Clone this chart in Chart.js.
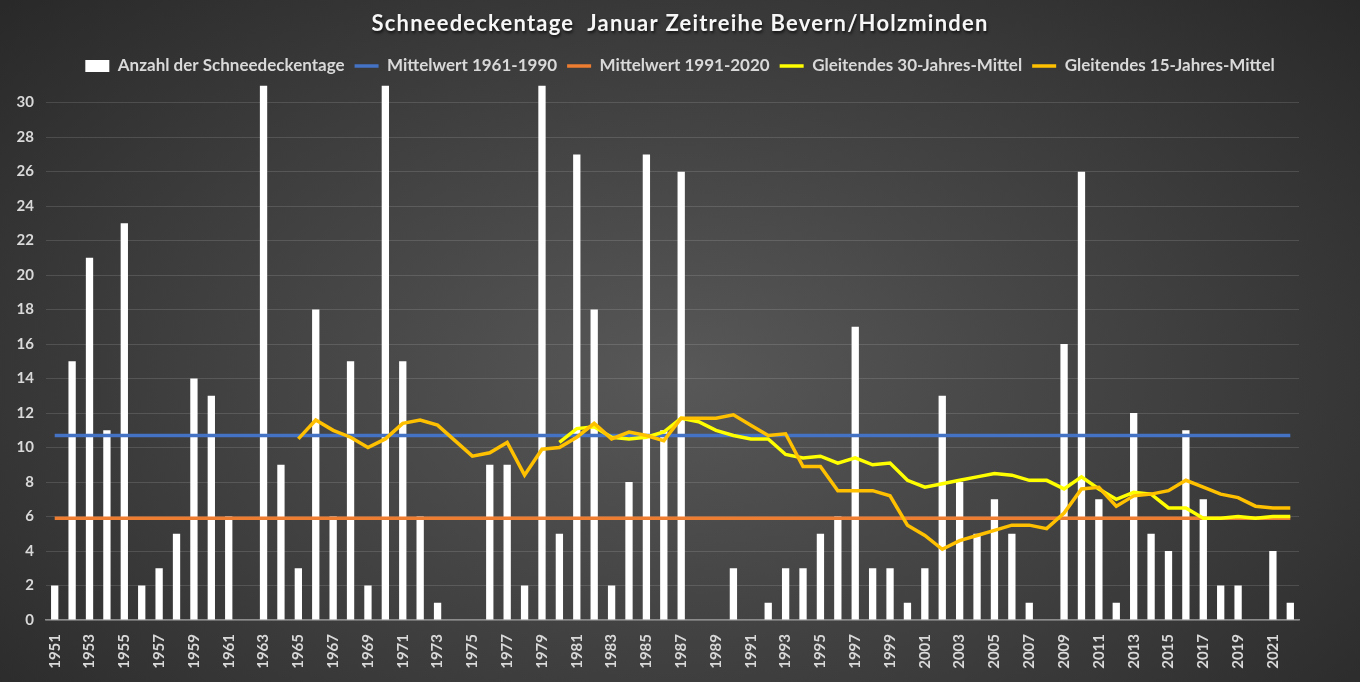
<!DOCTYPE html>
<html>
<head>
<meta charset="utf-8">
<title>Schneedeckentage Januar Bevern/Holzminden</title>
<script src="https://cdn.jsdelivr.net/npm/chart.js@4.4.1/dist/chart.umd.min.js"></script>
<style>
    html, body { margin: 0; padding: 0; }
    body {
        width: 1360px;
        height: 682px;
        overflow: hidden;
        background: radial-gradient(ellipse 72% 85% at 50% 55%, #585858 0%, #3d3d3d 55%, #262626 100%);
    }
    canvas { display: block; }
</style>
</head>
<body>
<canvas id="snowChart" width="1360" height="682"></canvas>
<script>
// Years on the x axis
const years = [
    '1951','1952','1953','1954','1955','1956','1957','1958','1959','1960',
    '1961','1962','1963','1964','1965','1966','1967','1968','1969','1970',
    '1971','1972','1973','1974','1975','1976','1977','1978','1979','1980',
    '1981','1982','1983','1984','1985','1986','1987','1988','1989','1990',
    '1991','1992','1993','1994','1995','1996','1997','1998','1999','2000',
    '2001','2002','2003','2004','2005','2006','2007','2008','2009','2010',
    '2011','2012','2013','2014','2015','2016','2017','2018','2019','2020',
    '2021','2022'
];

// y axis labels
const yTicks = [0, 2, 4, 6, 8, 10, 12, 14, 16, 18, 20, 22, 24, 26, 28, 30];

// Anzahl der Schneedeckentage im Januar
const snowDays = [
    2, 15, 21, 11, 23, 2, 3, 5, 14, 13,
    6, 0, 31, 9, 3, 18, 6, 15, 2, 31,
    15, 6, 1, 0, 0, 9, 9, 2, 31, 5,
    27, 18, 2, 8, 27, 11, 26, 0, 0, 3,
    0, 1, 3, 3, 5, 6, 17, 3, 3, 1,
    3, 13, 8, 5, 7, 5, 1, 0, 16, 26,
    7, 1, 12, 5, 4, 11, 7, 2, 2, 0,
    4, 1
];

// Reference means
const mean6190 = 10.7;
const mean9120 = 5.9;

// Gleitendes 30-Jahres-Mittel (first value 1980)
const avg30 = [
    null, null, null, null, null, null, null, null, null, null,
    null, null, null, null, null, null, null, null, null, null,
    null, null, null, null, null, null, null, null, null,
    10.3, 11.1, 11.2, 10.6, 10.5, 10.6, 10.9, 11.7, 11.5, 11.0,
    10.7, 10.5, 10.5, 9.6, 9.4, 9.5, 9.1, 9.4, 9.0, 9.1,
    8.1, 7.7, 7.9, 8.1, 8.3, 8.5, 8.4, 8.1, 8.1, 7.6,
    8.3, 7.6, 7.0, 7.4, 7.3, 6.5, 6.5, 5.9, 5.9, 6.0,
    5.9, 6.0, 6.0
];

// Gleitendes 15-Jahres-Mittel (first value 1965)
const avg15 = [
    null, null, null, null, null, null, null, null, null, null,
    null, null, null, null,
    10.5, 11.6, 11.0, 10.6, 10.0, 10.5,
    11.4, 11.6, 11.3, 10.4, 9.5, 9.7, 10.3, 8.4, 9.9, 10.0,
    10.6, 11.4, 10.5, 10.9, 10.7, 10.4, 11.7, 11.7, 11.7, 11.9,
    11.3, 10.7, 10.8, 8.9, 8.9, 7.5, 7.5, 7.5, 7.2, 5.5,
    4.9, 4.1, 4.6, 4.9, 5.2, 5.5, 5.5, 5.3, 6.2, 7.6,
    7.7, 6.6, 7.2, 7.3, 7.5, 8.1, 7.7, 7.3, 7.1, 6.6,
    6.5, 6.5
];

const textColor = '#d9d9d9';
const fontFamily = 'Lato, "Open Sans", sans-serif';

function lineSet(label, data, color, order) {
    return {
        type: 'line',
        label: label,
        data: data,
        borderColor: color,
        backgroundColor: color,
        borderWidth: 3.5,
        pointRadius: 0,
        tension: 0,
        spanGaps: false,
        order: order
    };
}

const ctx = document.getElementById('snowChart');

const chart = new Chart(ctx, {
    type: 'bar',
    data: {
        labels: years,
        datasets: [
            {
                label: 'Anzahl der Schneedeckentage',
                data: snowDays,
                backgroundColor: '#ffffff',
                borderWidth: 0,
                barPercentage: 0.42,
                categoryPercentage: 1.0,
                order: 5
            },
            lineSet('Mittelwert 1961-1990', years.map(() => mean6190), '#4472c4', 4),
            lineSet('Mittelwert 1991-2020', years.map(() => mean9120), '#ed7d31', 3),
            lineSet('Gleitendes 30-Jahres-Mittel', avg30, '#ffff00', 2),
            lineSet('Gleitendes 15-Jahres-Mittel', avg15, '#ffc000', 1)
        ]
    },
    options: {
        responsive: false,
        animation: false,
        devicePixelRatio: 1,
        layout: {
            padding: { top: 4, left: 10, right: 10, bottom: 0 }
        },
        plugins: {
            title: {
                display: true,
                text: 'Schneedeckentage  Januar Zeitreihe Bevern/Holzminden',
                color: '#f7f7f7',
                font: { family: fontFamily, size: 22, weight: 'bold' },
                padding: { top: 7, bottom: 10 }
            },
            legend: {
                display: true,
                labels: {
                    color: textColor,
                    font: { family: fontFamily, size: 17, weight: 'bold' },
                    usePointStyle: true,
                    pointStyleWidth: 24,
                    boxHeight: 12,
                    padding: 10,
                    sort: (a, b) => a.datasetIndex - b.datasetIndex,
                    generateLabels: function(chart) {
                        const items = Chart.defaults.plugins.legend.labels.generateLabels(chart);
                        items.forEach(item => {
                            item.pointStyle = item.datasetIndex === 0 ? 'rect' : 'line';
                        });
                        return items;
                    }
                }
            },
            tooltip: { enabled: false }
        },
        scales: {
            x: {
                grid: { display: false },
                border: { display: true, color: '#8c8c8c', width: 1.5 },
                ticks: {
                    color: textColor,
                    font: { family: fontFamily, size: 15, weight: 'bold' },
                    autoSkip: false,
                    minRotation: 90,
                    maxRotation: 90,
                    padding: 6,
                    callback: function(value, index) {
                        return index % 2 === 0 ? this.getLabelForValue(value) : '';
                    }
                },
                afterFit: function(scale) {
                    scale.height = 62;
                }
            },
            y: {
                min: 0,
                max: 31,
                grid: {
                    color: 'rgba(255,255,255,0.13)',
                    drawTicks: false
                },
                border: { display: false },
                ticks: {
                    color: textColor,
                    font: { family: fontFamily, size: 15, weight: 'bold' },
                    padding: 12
                },
                afterBuildTicks: function(scale) {
                    scale.ticks = yTicks.map(v => ({ value: v }));
                },
                afterFit: function(scale) {
                    scale.width = 36;
                }
            },
            yRight: {
                position: 'right',
                display: true,
                grid: { display: false },
                border: { display: false },
                ticks: { display: false },
                afterFit: function(scale) {
                    scale.width = 51;
                }
            }
        }
    }
});

// letter spacing and a soft shadow for the title, a bit more room under the legend
const titleDraw = chart.titleBlock.draw.bind(chart.titleBlock);
chart.titleBlock.draw = function() {
    const c = chart.ctx;
    c.save();
    c.letterSpacing = '1.2px';
    c.shadowColor = 'rgba(0,0,0,0.7)';
    c.shadowOffsetX = 1;
    c.shadowOffsetY = 2;
    c.shadowBlur = 3;
    titleDraw();
    c.restore();
};
const legendFit = chart.legend.fit.bind(chart.legend);
chart.legend.fit = function() {
    legendFit();
    this.height += 1;
};
chart.update();
</script>
</body>
</html>
